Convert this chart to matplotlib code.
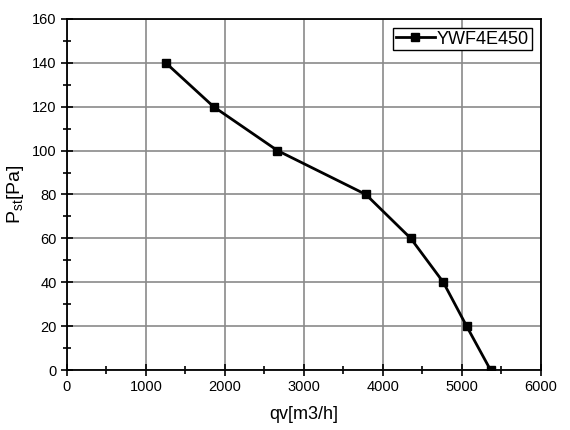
import matplotlib
matplotlib.use('Agg')
import matplotlib.pyplot as plt
from matplotlib.ticker import MultipleLocator

plt.rcParams['font.family'] = ['Liberation Sans', 'DejaVu Sans']
plt.rcParams['mathtext.fontset'] = 'custom'
plt.rcParams['mathtext.rm'] = 'Liberation Sans'

qv = [1250, 1856, 2665, 3784, 4352, 4764, 5059, 5362]
pst = [140, 120, 100, 80, 60, 40, 20, 0]
series_name = 'YWF4E450'

fig = plt.figure(figsize=(5.7, 4.3), dpi=100)
ax = fig.add_axes([0.1175, 0.1395, 0.8315, 0.8165])

ax.plot(qv, pst, color='black', lw=2, marker='s', ms=5.5, label=series_name, zorder=3)

ax.set_xlim(0, 6000)
ax.set_ylim(0, 160)
ax.xaxis.set_major_locator(MultipleLocator(1000))
ax.xaxis.set_minor_locator(MultipleLocator(500))
ax.yaxis.set_major_locator(MultipleLocator(20))
ax.yaxis.set_minor_locator(MultipleLocator(10))
ax.tick_params(which='major', direction='inout', length=8, width=1.2, labelsize=10.5)
ax.tick_params(which='minor', direction='inout', length=6, width=1.2)
ax.grid(True, which='major', color='#8a8a8a', lw=1.2)
ax.set_axisbelow(True)
for s in ax.spines.values():
    s.set_linewidth(1.3)

ax.set_xlabel('qv[m3/h]', fontsize=13, labelpad=8)
ax.set_ylabel(r'P$_{\mathrm{st}}$[Pa]', fontsize=14, labelpad=4)

leg = ax.legend(loc='upper right', fontsize=13, fancybox=False, framealpha=1,
                edgecolor='black', handlelength=2.2, handletextpad=0.1,
                borderpad=0.15, borderaxespad=0.5)
leg.get_frame().set_linewidth(1.0)

fig.savefig('out.png', dpi=100)
